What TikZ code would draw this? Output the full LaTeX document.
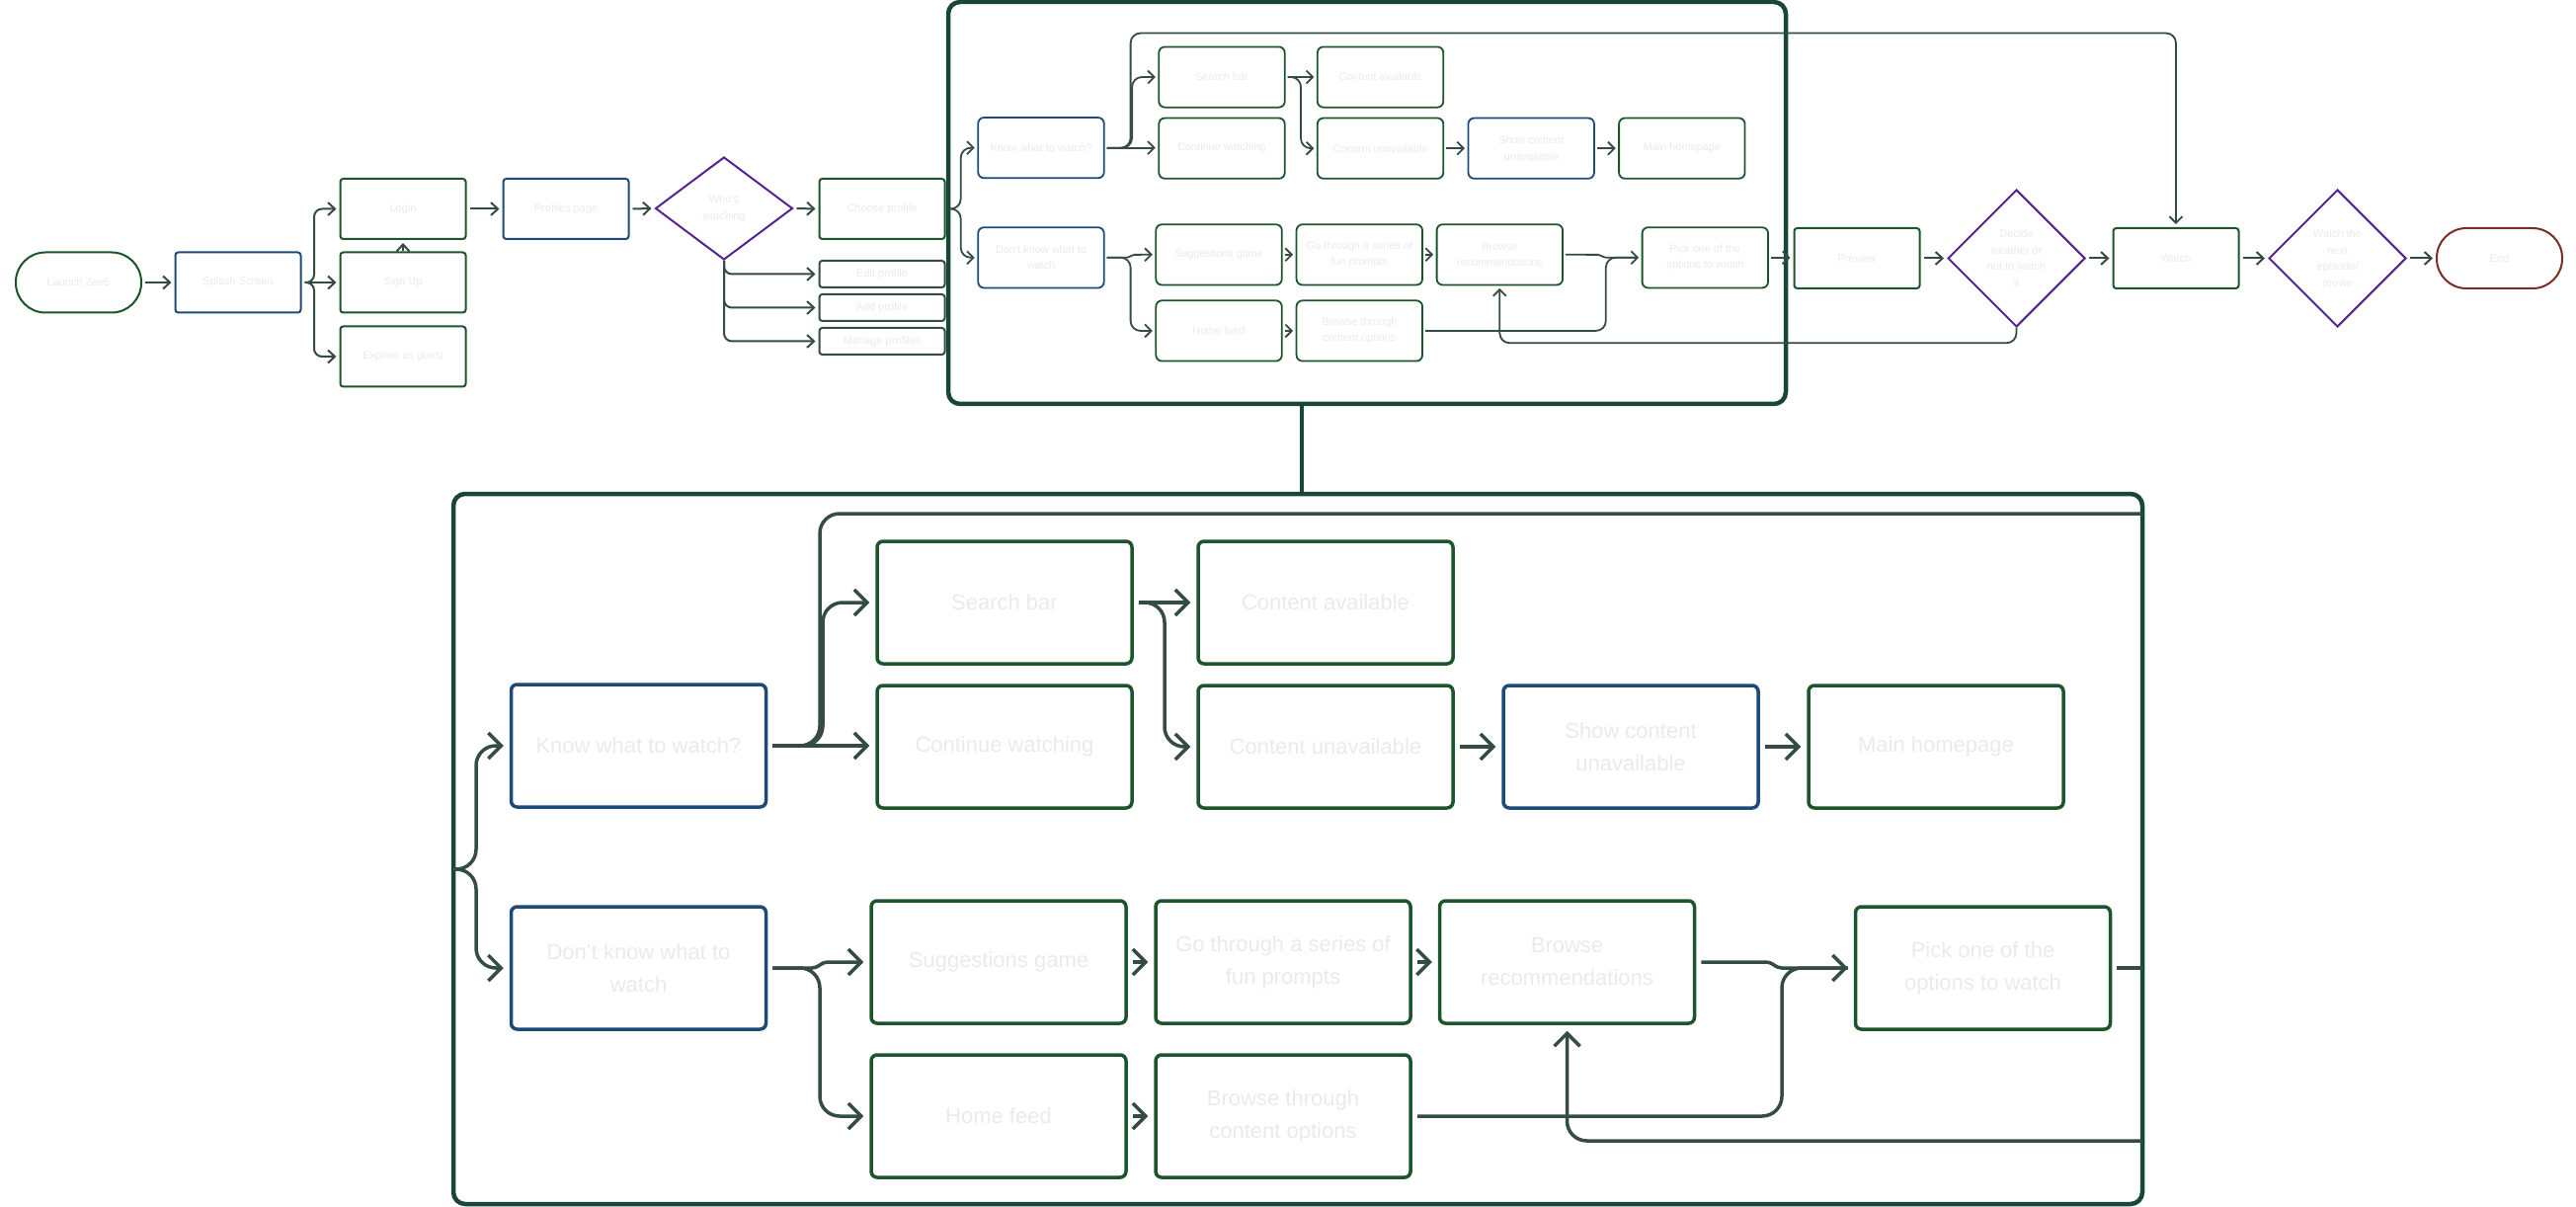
\documentclass[tikz,border=0pt]{standalone}
\usepackage{fontspec}
\setmainfont{Liberation Sans}
\usetikzlibrary{arrows.meta,shapes.geometric}
\definecolor{gbox}{RGB}{28,84,44}
\definecolor{blu}{RGB}{30,74,122}
\definecolor{pbox}{RGB}{86,36,146}
\definecolor{rbox}{RGB}{122,46,36}
\definecolor{conn}{RGB}{52,76,66}
\definecolor{cont}{RGB}{24,70,56}
\definecolor{txt}{RGB}{234,234,234}

\tikzset{
  tnode/.style={inner sep=0pt, text=txt, align=center, font=\fontsize{11}{16.5}\selectfont},
  tg/.style={tnode, draw=gbox, line width=2pt, rounded corners=3pt, minimum width=127pt, minimum height=61pt},
  tb/.style={tg, draw=blu},
  ts/.style={tg, draw=conn, minimum height=27pt},
  tstad/.style={tg, rounded corners=30pt},
  tdia/.style={tnode, diamond, draw=pbox, line width=2pt, minimum width=139pt, minimum height=139pt},
  tconn/.style={draw=conn, line width=2pt, rounded corners=8pt},
  tarr/.style={tconn, -{Straight Barb[length=7pt,width=13pt]}, shorten >=3pt},
  tsh/.style={shorten <=3pt},
  container/.style={draw=cont, line width=4.5pt, rounded corners=12pt, inner sep=0pt},
}

\newcommand{\flowbody}[1]{%
  \node[fb] (#1know) at (646.5,755) {Know what to watch?};
  \node[fb] (#1dont) at (646.5,980) {Don't know what to\\watch};
  \node[fg] (#1search) at (1017,610) {Search bar};
  \node[fg] (#1cont) at (1017,756) {Continue watching};
  \node[fg] (#1avail) at (1342,610) {Content available};
  \node[fg] (#1unav) at (1342,756) {Content unavailable};
  \node[fb] (#1show) at (1651,756) {Show content\\unavailable};
  \node[fg] (#1main) at (1960,756) {Main homepage};
  \node[fg] (#1sugg) at (1011,974) {Suggestions game};
  \node[fg] (#1home) at (1011,1130) {Home feed};
  \node[fg] (#1go) at (1299,974) {Go through a series of\\fun prompts};
  \node[fg] (#1bt) at (1299,1130) {Browse through\\content options};
  \node[fg] (#1br) at (1586.5,974) {Browse\\recommendations};
  \node[fg] (#1pick) at (2007.5,980) {Pick one of the\\options to watch};
  \coordinate (#1brace) at (459,880);
  \draw[farr] (#1brace) -| (482,755) -- (#1know.west);
  \draw[farr] (#1brace) -| (482,980) -- (#1dont.west);
  \draw[farr, fs] (#1know.east) -- (#1know.east -| #1cont.west);
  \draw[farr, fs] (#1know.east) -| (833,610) -- (#1search.west);
  \draw[farr, fs] (#1search.east) -- (#1avail.west);
  \draw[farr, fs] (#1search.east) -| (1179,756) -- (#1unav.west);
  \draw[farr, fs] (#1unav.east) -- (#1show.west);
  \draw[farr, fs] (#1show.east) -- (#1main.west);
  \draw[farr, fs, fsharp] (#1dont.east) -- (826,980) -- (834,974) -- (#1sugg.west);
  \draw[farr, fs] (#1dont.east) -| (830,1130) -- (#1home.west);
  \draw[farr, fs] (#1sugg.east) -- (#1go.west);
  \draw[farr, fs] (#1go.east) -- (#1br.west);
  \draw[farr, fs] (#1home.east) -- (#1bt.west);
  \draw[farr, fs, fsharp] (#1br.east) -- (1792,974) -- (1800,980) -- (#1pick.west);
  \draw[fconn, fs, shorten >=6pt] (#1bt.east) -| (1804,980) -- (#1pick.west);
}

\begin{document}
\begin{tikzpicture}[x=1pt,y=-1pt]
\useasboundingbox (0,0) rectangle (2608,1222);

% containers
\node[container, minimum width=848pt, minimum height=407pt] (topbox) at (1384,205.5) {};
\node[container, minimum width=1710pt, minimum height=719pt] (botbox) at (1314,859.5) {};
\coordinate (linkx) at (1318,0);
\draw[draw=cont, line width=4.5pt] (topbox.south -| linkx) -- (botbox.north -| linkx);

% top-level nodes
\node[tstad] (launch) at (79.5,286) {Launch Zee5};
\node[tb] (splash) at (241,286) {Splash Screen};
\node[tg] (login) at (408,211.5) {Login};
\node[tg] (signup) at (408,286) {Sign Up};
\node[tg] (explore) at (408,361) {Explore as guest};
\node[tb] (profiles) at (573,211.5) {Profiles page};
\node[tdia, minimum height=104pt, aspect=1.34] (who) at (733,211) {Who's\\watching};
\node[tg] (choose) at (893,211.5) {Choose profile};
\node[ts] (edit) at (893,277.5) {Edit profile};
\node[ts] (add) at (893,311.5) {Add profile};
\node[ts] (manage) at (893,345.5) {Manage profiles};
\node[tg] (preview) at (1880,261.5) {Preview};
\node[tdia] (decide) at (2041.5,261.5) {Decide\\weather or\\not to watch\\it};
\node[tg] (watch) at (2203,261.5) {Watch};
\node[tdia] (next) at (2366.5,261.5) {Watch the\\next\\episode/\\movie};
\node[tstad, draw=rbox] (end) at (2530.5,261.5) {End};

% top-level connectors
\draw[tarr, tsh] (launch.east) -- (splash.west);
\draw[tarr, tsh] (splash.east) -| (318,211.5) -- (login.west);
\draw[tarr, tsh] (splash.east) -- (signup.west);
\draw[tarr, tsh] (splash.east) -| (318,361) -- (explore.west);
\draw[tarr] (signup.north) -- (login.south);
\draw[tarr, tsh] (login.east) -- (profiles.west);
\draw[tarr, tsh] (profiles.east) -- (who.west);
\draw[tarr, tsh] (who.east) -- (choose.west);
\draw[tarr] (who.south) |- (edit.west);
\draw[tarr] (who.south) |- (add.west);
\draw[tarr] (who.south) |- (manage.west);
\draw[tarr, tsh] (preview.east) -- (decide.west);
\draw[tarr, tsh] (decide.east) -- (watch.west);
\draw[tarr, tsh] (watch.east) -- (next.west);
\draw[tarr, tsh] (next.east) -- (end.west);

% miniature flow inside the top container
\begin{scope}[shift={(734.6,-223.3)}, scale=0.494, transform shape,
  fg/.style={inner sep=0pt, text=txt, align=center, font=\fontsize{22}{33}\selectfont, draw=gbox, line width=1.8pt, rounded corners=6pt, minimum width=258pt, minimum height=124pt},
  fb/.style={fg, draw=blu},
  fconn/.style={draw=conn, line width=1.8pt, rounded corners=10pt},
  farr/.style={fconn, -{Straight Barb[length=6.5pt,width=13pt]}, shorten >=3pt},
  fs/.style={shorten <=2.5pt},
  fsharp/.style={rounded corners=2pt}]
  \flowbody{m}
  \draw[farr, fs] (mknow.east) -| (830,520) -| (watch.north);
  \draw[farr, fs] (mpick.east) -- (mpick.east -| preview.west);
  \draw[farr] (decide.south) |- (1586.5,1155) -- (mbr.south);
\end{scope}

% enlarged flow in the bottom container
\begin{scope}[
  fg/.style={inner sep=0pt, text=txt, align=center, font=\fontsize{22}{33}\selectfont, draw=gbox, line width=3.5pt, rounded corners=6pt, minimum width=258pt, minimum height=124pt},
  fb/.style={fg, draw=blu},
  fconn/.style={draw=conn, line width=3.5pt, rounded corners=20pt},
  farr/.style={fconn, -{Straight Barb[length=13pt,width=26pt]}, shorten >=6pt},
  fs/.style={shorten <=5pt},
  fsharp/.style={rounded corners=4pt}]
  \flowbody{b}
  \coordinate (bedge) at (2169,0);
  \draw[fconn, fs] (bknow.east) -| (830,520) -- (bedge |- 0,520);
  \draw[fconn, fs] (bpick.east) -- (bpick.east -| bedge);
  \draw[farr] (bedge |- 0,1155) -| (bbr.south);
\end{scope}
\end{tikzpicture}
\end{document}
